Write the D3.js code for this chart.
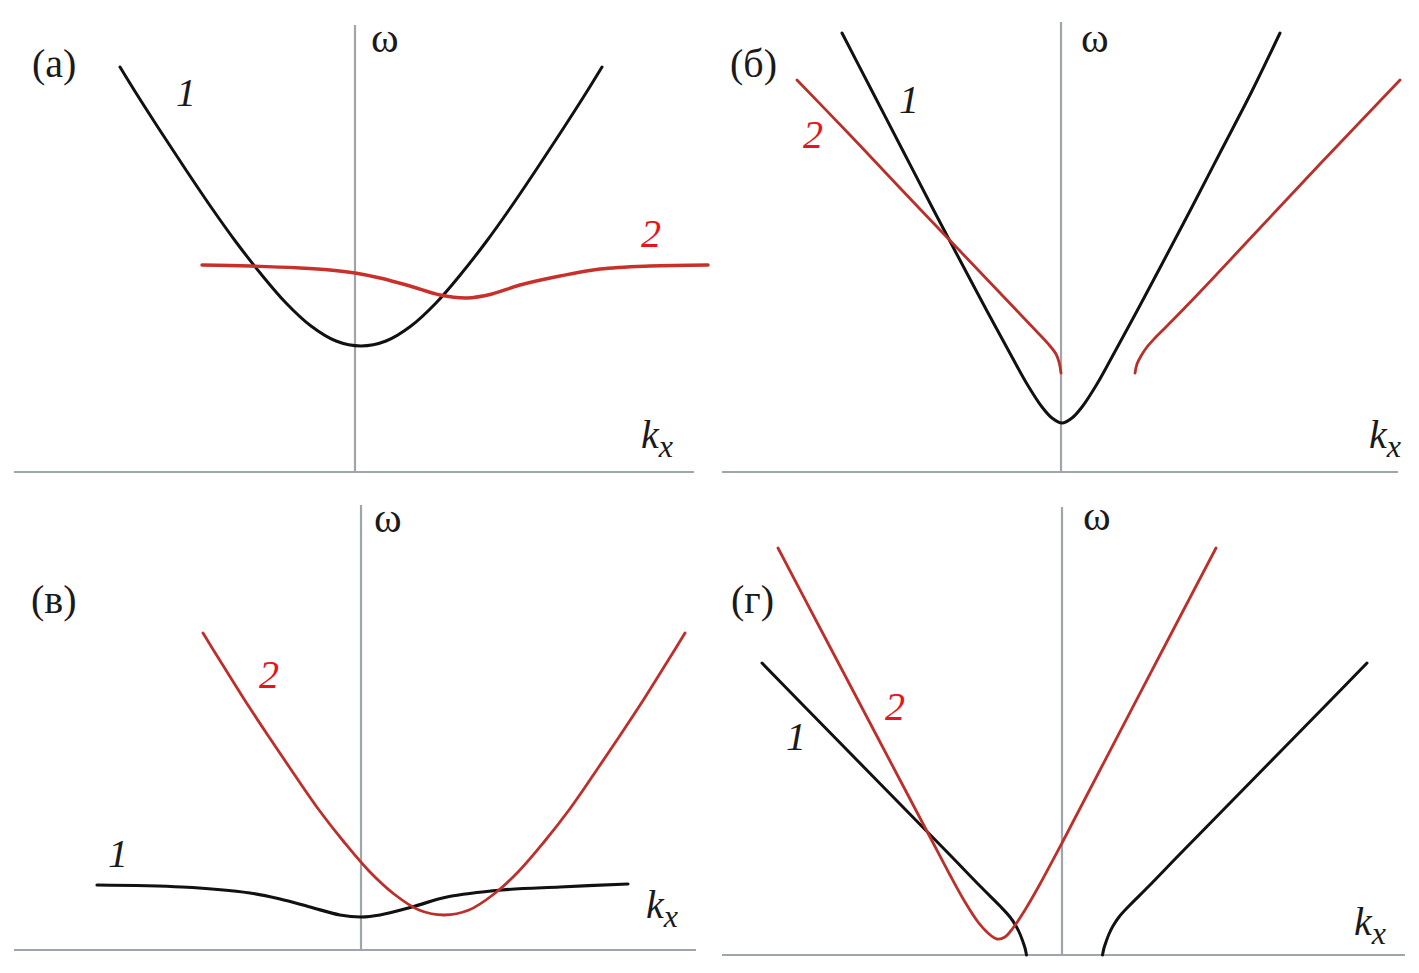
<!DOCTYPE html>
<html>
<head>
<meta charset="utf-8">
<script src="https://cdn.jsdelivr.net/npm/d3@7"></script>
<style>
  html, body { margin: 0; padding: 0; background: #ffffff; }
  svg { display: block; }
</style>
</head>
<body>
<svg id="chart" width="1419" height="973"></svg>
<script>
// ---------- DATA (kx, omega) in arbitrary units ----------
const panelLabels = ["(a)", "(б)", "(в)", "(г)"];
const curveLabels = ["1", "2"];
const axisLabelOmega = "ω";
const axisLabelK = "k";
const axisLabelKSub = "x";

// Panel (a)
const a_curve1 = [[-2.35,4.05],[-2.19,3.79],[-1.94,3.40],[-1.69,3.02],[-1.44,2.65],[-1.19,2.30],[-0.94,1.98],[-0.69,1.69],[-0.44,1.46],[-0.19,1.31],[0.06,1.26],[0.31,1.31],[0.56,1.46],[0.81,1.69],[1.06,1.98],[1.31,2.30],[1.56,2.65],[1.81,3.02],[2.06,3.40],[2.31,3.79],[2.47,4.05]];
const a_curve2 = [[-1.53,2.07],[-1.05,2.06],[-0.55,2.04],[-0.25,2.02],[0,1.99],[0.25,1.94],[0.55,1.86],[0.85,1.77],[1.12,1.74],[1.37,1.78],[1.65,1.87],[2.05,1.96],[2.45,2.03],[2.95,2.06],[3.53,2.07]];

// Panel (б)
const b_curve1 = [[-2.19,4.39],[-1.89,3.81],[-1.59,3.23],[-1.29,2.65],[-0.99,2.08],[-0.74,1.61],[-0.49,1.15],[-0.34,0.88],[-0.19,0.65],[-0.09,0.54],[0.01,0.49],[0.11,0.54],[0.21,0.65],[0.36,0.88],[0.51,1.15],[0.76,1.61],[1.01,2.08],[1.31,2.65],[1.61,3.23],[1.91,3.81],[2.19,4.39]];
const b_curve2_left = [[-2.64,3.92],[-2.11,3.37],[-1.61,2.84],[-1.21,2.42],[-0.81,2.00],[-0.41,1.58],[-0.21,1.37],[-0.11,1.26],[-0.05,1.18],[-0.02,1.10],[0.00,0.99]];
const b_curve2_right = [[0.74,0.99],[0.76,1.08],[0.80,1.16],[0.86,1.25],[0.94,1.34],[1.04,1.44],[1.39,1.80],[1.99,2.44],[2.59,3.08],[3.39,3.92]];

// Panel (в)
const c_curve1 = [[-2.64,0.65],[-1.79,0.63],[-1.11,0.57],[-0.81,0.51],[-0.51,0.43],[-0.21,0.35],[0,0.33],[0.19,0.35],[0.51,0.43],[0.86,0.53],[1.41,0.60],[1.99,0.63],[2.67,0.66]];
const c_curve2 = [[-1.58,3.17],[-1.42,2.91],[-1.17,2.51],[-0.92,2.13],[-0.67,1.76],[-0.42,1.40],[-0.17,1.08],[0.08,0.79],[0.33,0.56],[0.58,0.40],[0.83,0.35],[1.08,0.40],[1.33,0.56],[1.58,0.79],[1.83,1.08],[2.08,1.40],[2.33,1.76],[2.58,2.13],[2.83,2.51],[3.08,2.91],[3.24,3.17]];

// Panel (г)
const d_curve1_left = [[-3.00,2.92],[-2.62,2.53],[-2.12,2.02],[-1.62,1.51],[-1.12,1.00],[-0.82,0.69],[-0.62,0.49],[-0.52,0.38],[-0.46,0.29],[-0.42,0.21],[-0.39,0.13],[-0.37,0.07],[-0.355,0]];
const d_curve1_right = [[0.405,0],[0.42,0.07],[0.44,0.13],[0.47,0.21],[0.51,0.29],[0.57,0.38],[0.67,0.49],[0.87,0.69],[1.17,1.00],[1.67,1.51],[2.17,2.02],[2.67,2.53],[3.05,2.92]];
const d_curve2 = [[-2.84,4.07],[-2.42,3.27],[-2.02,2.51],[-1.62,1.75],[-1.32,1.18],[-1.12,0.80],[-0.97,0.53],[-0.84,0.33],[-0.74,0.22],[-0.65,0.16],[-0.57,0.18],[-0.49,0.27],[-0.37,0.45],[-0.22,0.71],[0,1.12],[0.38,1.85],[0.98,3.00],[1.54,4.07]];

// ---------- LAYOUT ----------
const panels = [
  { label: panelLabels[0], axisX: 355, baseY: 472, left: 14, right: 694, top: 25,
    lbl: [32, 77], om: [371, 52], k: [641, 448], n1: [176, 106], n2: [641, 247],
    series: [{ d: a_curve1, c: "#111111", w: 3 }, { d: a_curve2, c: "#c9302c", w: 3.4 }] },
  { label: panelLabels[1], axisX: 1061, baseY: 472, left: 722, right: 1398, top: 22,
    lbl: [730, 77], om: [1081, 52], k: [1369, 448], n1: [899, 113], n2: [803, 148],
    series: [{ d: b_curve1, c: "#111111", w: 3 }, { d: b_curve2_left, c: "#b8302a", w: 2.8 }, { d: b_curve2_right, c: "#b8302a", w: 2.8 }] },
  { label: panelLabels[2], axisX: 361, baseY: 950, left: 14, right: 696, top: 505,
    lbl: [31, 613], om: [374, 532], k: [646, 918], n1: [108, 867], n2: [259, 688],
    series: [{ d: c_curve1, c: "#111111", w: 3.2 }, { d: c_curve2, c: "#bd2f2a", w: 2.8 }] },
  { label: panelLabels[3], axisX: 1062, baseY: 955, left: 722, right: 1405, top: 507,
    lbl: [731, 613], om: [1083, 530], k: [1354, 935], n1: [786, 750], n2: [885, 720],
    series: [{ d: d_curve1_left, c: "#111111", w: 3 }, { d: d_curve1_right, c: "#111111", w: 3 }, { d: d_curve2, c: "#bd2f2a", w: 2.8 }] }
];

const FONT = "'Liberation Serif', 'Times New Roman', Tinos, 'DejaVu Serif', 'Noto Serif', serif";
const svg = d3.select("#chart");
const unit = 100; // pixels per data unit

panels.forEach(p => {
  const x = d3.scaleLinear()
    .domain([(p.left - p.axisX) / unit, (p.right - p.axisX) / unit])
    .range([p.left, p.right]);
  const y = d3.scaleLinear()
    .domain([0, (p.baseY - p.top) / unit])
    .range([p.baseY, p.top]);

  const g = svg.append("g");

  // axes
  g.append("line")
    .attr("x1", x.range()[0]).attr("x2", x.range()[1])
    .attr("y1", y(0)).attr("y2", y(0))
    .attr("stroke", "#9ea6ac").attr("stroke-width", 2.2);
  g.append("line")
    .attr("x1", x(0)).attr("x2", x(0))
    .attr("y1", y(0)).attr("y2", y.range()[1])
    .attr("stroke", "#9ea6ac").attr("stroke-width", 2.2);

  const line = d3.line()
    .x(d => x(d[0]))
    .y(d => y(d[1]))
    .curve(d3.curveCatmullRom.alpha(0.5));

  p.series.forEach(s => {
    g.append("path")
      .attr("d", line(s.d))
      .attr("fill", "none")
      .attr("stroke", s.c)
      .attr("stroke-width", s.w)
      .attr("stroke-linecap", "round")
      .attr("stroke-linejoin", "round");
  });

  // labels
  g.append("text").attr("x", p.lbl[0]).attr("y", p.lbl[1])
    .attr("font-family", FONT)
    .attr("font-size", 40).attr("fill", "#1a1a1a").text(p.label);
  g.append("text").attr("x", p.om[0]).attr("y", p.om[1])
    .attr("font-family", FONT)
    .attr("font-size", 42).attr("fill", "#1a1a1a").text(axisLabelOmega);
  const kt = g.append("text").attr("x", p.k[0]).attr("y", p.k[1])
    .attr("font-family", FONT)
    .attr("font-size", 40).attr("font-style", "italic").attr("fill", "#1a1a1a");
  kt.append("tspan").text(axisLabelK);
  kt.append("tspan").attr("font-size", 32).attr("dy", 9).text(axisLabelKSub);
  g.append("text").attr("x", p.n1[0]).attr("y", p.n1[1])
    .attr("font-family", FONT)
    .attr("font-size", 40).attr("font-style", "italic").attr("fill", "#1a1a1a").text(curveLabels[0]);
  g.append("text").attr("x", p.n2[0]).attr("y", p.n2[1])
    .attr("font-family", FONT)
    .attr("font-size", 40).attr("font-style", "italic").attr("fill", "#e8141c").text(curveLabels[1]);
});
</script>
</body>
</html>
